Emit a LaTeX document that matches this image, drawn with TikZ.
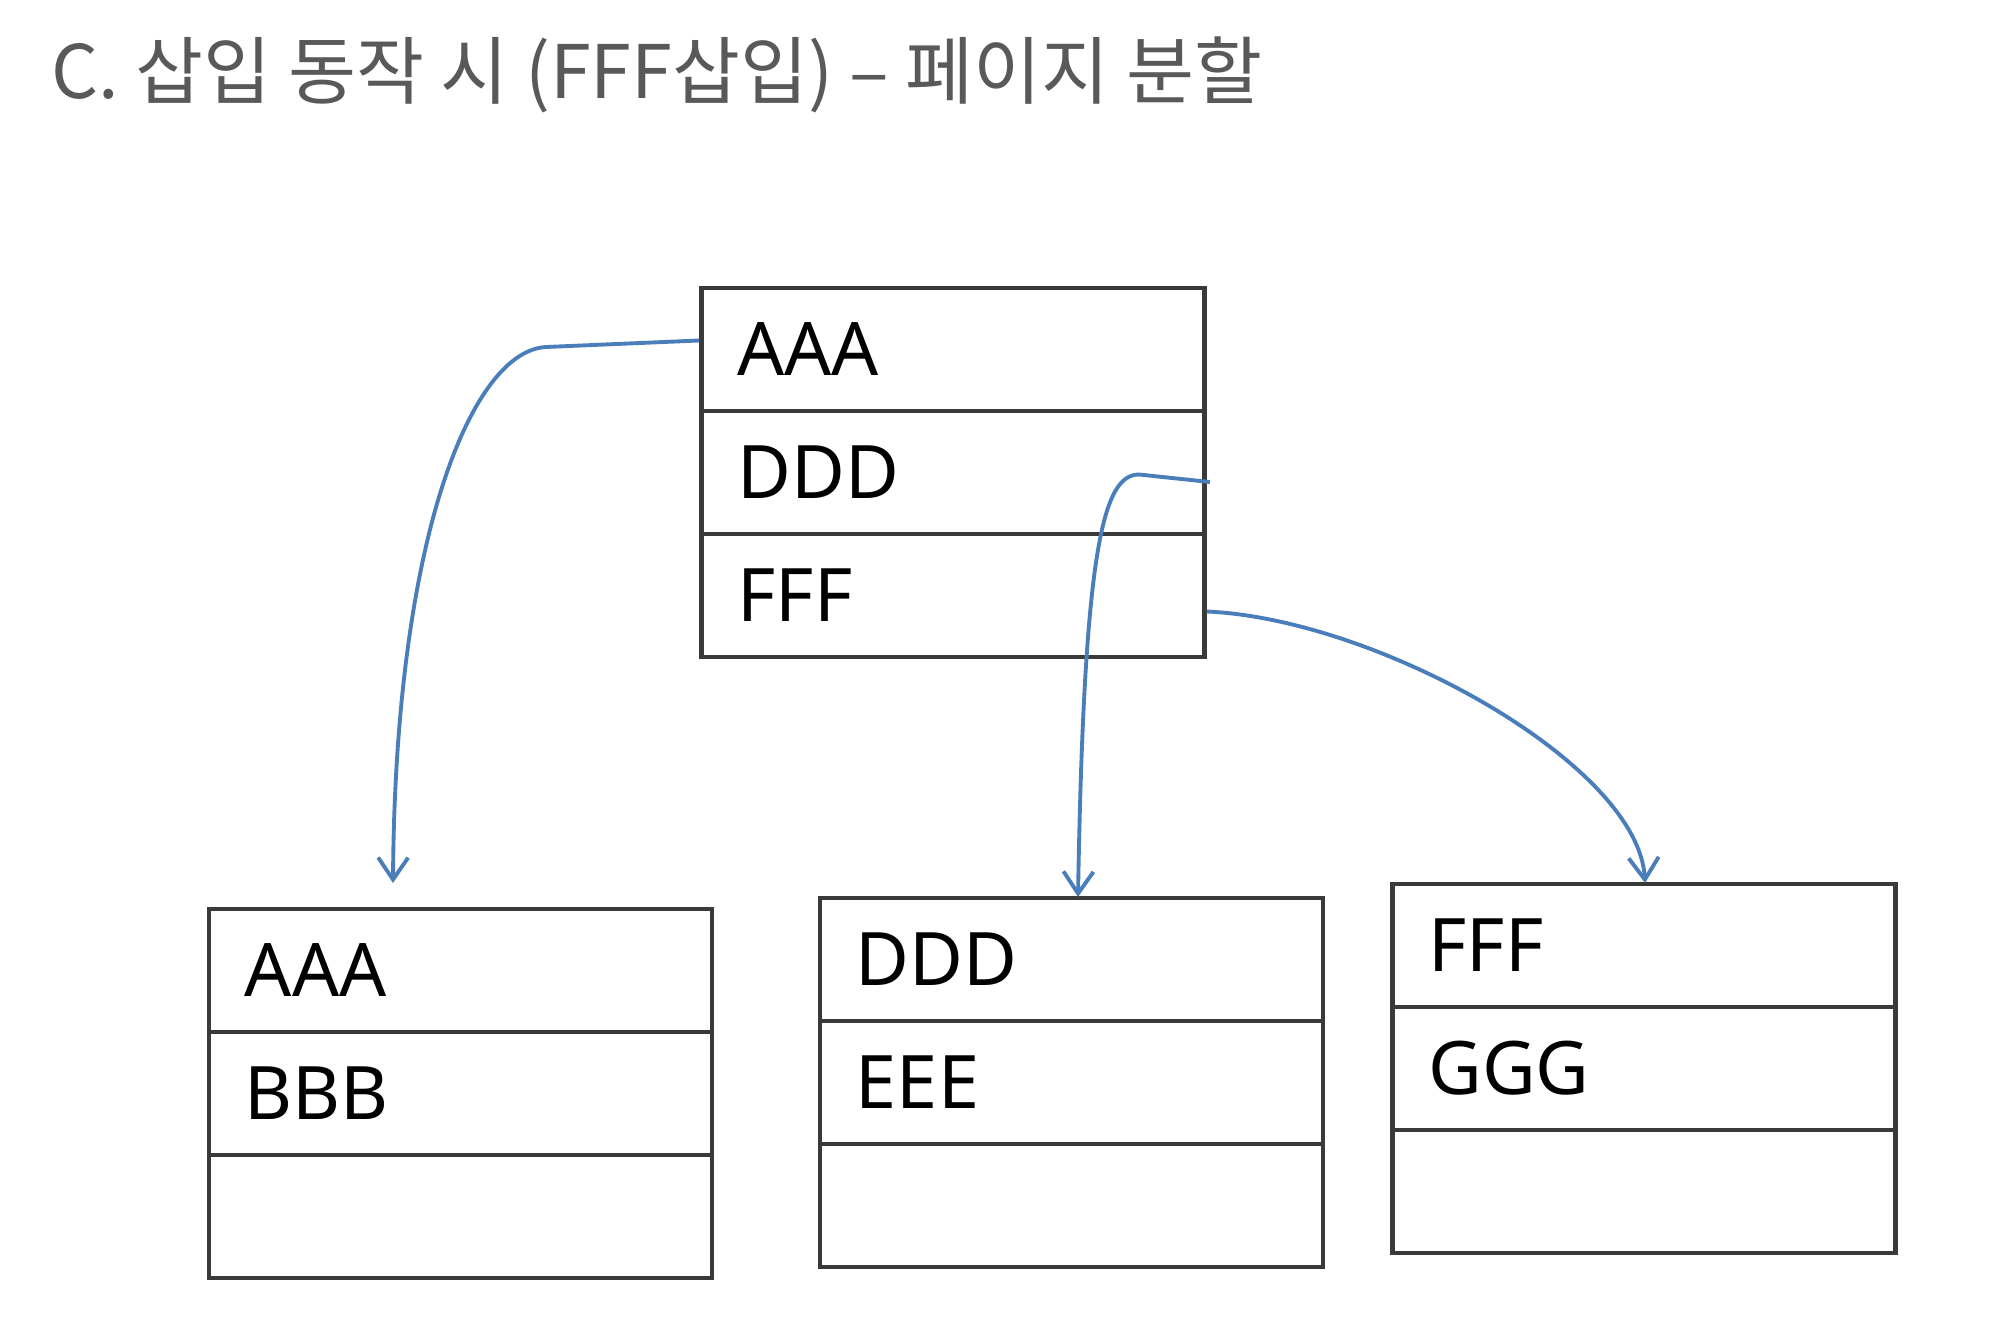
\documentclass[tikz,border=0pt]{standalone}
\usepackage{fontspec}
\setmainfont{Noto Sans}
\newfontfamily\krfont{Noto Sans CJK KR}
\usetikzlibrary{arrows.meta,calc}
\definecolor{titlegray}{HTML}{595959}
\definecolor{linkblue}{HTML}{4A7EBB}
\definecolor{boxline}{HTML}{3A3A3A}
\begin{document}
\begin{tikzpicture}[x=0.01cm,y=-0.01cm,
  cell/.style={draw=boxline, line width=1.3pt, rectangle, minimum width=5.03cm,
    minimum height=1.23cm, text width=4.31cm, inner xsep=0.36cm, inner ysep=0pt,
    align=left, font=\fontsize{21}{21}\selectfont, text height=15pt, text depth=0pt},
  link/.style={draw=linkblue, line width=1.1pt,
    -{Straight Barb[length=0.22cm,width=0.3cm,line width=1.1pt]}}]
\fill[white] (0,0) rectangle (2000,1330);
\useasboundingbox (0,0) rectangle (2000,1330);

\node[anchor=base west, text=titlegray, inner sep=0pt,
  font=\krfont\fontsize{21}{21}\selectfont] (title) at (51,98)
  {C. 삽입 동작 시 (FFF삽입) – 페이지 분할};

% top page
\node[cell] (t1) at (953,349.5) {AAA};
\node[cell] (t2) at (953,472.5) {DDD};
\node[cell] (t3) at (953,595.5) {FFF};
% left page
\node[cell] (l1) at (460.5,970.5) {AAA};
\node[cell] (l2) at (460.5,1093.5) {BBB};
\node[cell] (l3) at (460.5,1216.5) {};
% middle page
\node[cell] (m1) at (1071.5,959.5) {DDD};
\node[cell] (m2) at (1071.5,1082.5) {EEE};
\node[cell] (m3) at (1071.5,1205.5) {};
% right page
\node[cell] (r1) at (1644,945.5) {FFF};
\node[cell] (r2) at (1644,1068.5) {GGG};
\node[cell] (r3) at (1644,1191.5) {};

\coordinate (e1) at (393,883);
\coordinate (e2) at (1078,897);
\coordinate (e3) at (1645,883);

\draw[link] ([yshift=0.09cm]t1.west) -- (546,347)
  .. controls (472,351) and (395,536) .. (e1);
\draw[link] ([xshift=0.03cm,yshift=-0.095cm]t2.east) -- (1139,474.5)
  .. controls (1103,474.5) and (1084,548) .. (e2);
\draw[link] ([yshift=-0.16cm]t3.east)
  .. controls (1378,619) and (1639,765) .. (e3);
\end{tikzpicture}
\end{document}
